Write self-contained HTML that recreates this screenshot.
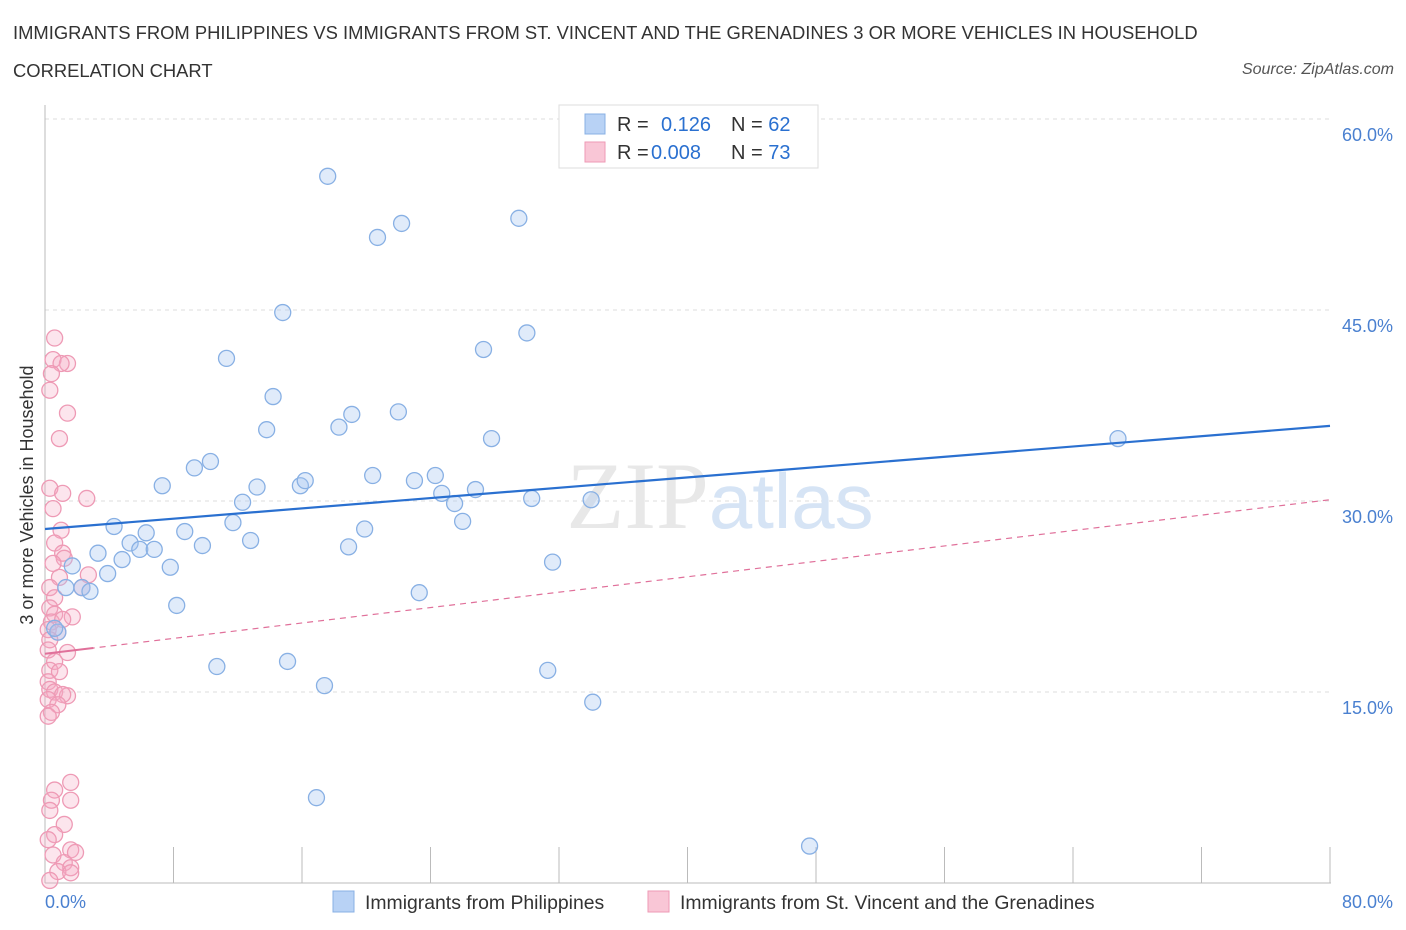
<!DOCTYPE html>
<html><head><meta charset="utf-8"><style>
body{margin:0;background:#fff;font-family:"Liberation Sans",sans-serif;}
#wrap{position:relative;width:1406px;height:930px;overflow:hidden;}
.t{position:absolute;white-space:nowrap;}
</style></head><body>
<div id="wrap">
<div class="t" style="left:13px;top:22px;font-size:18.4px;color:#333;">IMMIGRANTS FROM PHILIPPINES VS IMMIGRANTS FROM ST. VINCENT AND THE GRENADINES 3 OR MORE VEHICLES IN HOUSEHOLD</div>
<div class="t" style="left:13px;top:60px;font-size:18.4px;color:#333;">CORRELATION CHART</div>
<div class="t" style="right:12px;top:61px;font-size:16px;color:#555;font-style:italic;">Source: ZipAtlas.com</div>
<svg id="svg" width="1406" height="930" style="position:absolute;left:0;top:0"></svg>
</div>
<script>
const xTickLabels=["0.0%","80.0%"];
const yTicks=[15,30,45,60];
const blueX=[17.6,20.7,22.2,29.5,14.8,30.0,11.3,27.3,14.2,13.8,19.1,22.0,18.3,27.8,10.3,9.3,7.3,15.9,16.2,13.2,20.4,23.0,24.3,24.7,25.5,26.8,30.3,34.0,12.3,11.7,26.0,19.9,4.3,6.3,8.7,12.8,5.3,5.9,6.8,9.8,18.9,3.3,4.8,7.8,31.6,3.9,1.7,2.3,2.8,1.3,8.2,23.3,10.7,15.1,31.3,17.4,34.1,16.9,47.6,66.8,0.8,0.6];
const blueY=[55.5,50.7,51.8,52.2,44.8,43.2,41.2,41.9,38.2,35.6,36.8,37.0,35.8,34.9,33.1,32.6,31.2,31.2,31.6,31.1,32.0,31.6,32.0,30.6,29.8,30.9,30.2,30.1,29.9,28.3,28.4,27.8,28.0,27.5,27.6,26.9,26.7,26.2,26.2,26.5,26.4,25.9,25.4,24.8,25.2,24.3,24.9,23.2,22.9,23.2,21.8,22.8,17.0,17.4,16.7,15.5,14.2,6.7,2.9,34.9,19.7,20.0];
const pinkX=[0.6,0.5,1.4,1.0,0.4,0.3,1.4,0.9,0.3,1.1,2.6,0.5,1.0,0.6,1.1,1.2,0.5,2.7,0.9,0.3,2.3,0.6,0.3,0.6,1.7,0.4,1.1,0.2,0.8,0.3,1.4,0.2,0.6,0.3,0.9,0.2,0.3,0.6,1.4,1.1,0.2,0.8,0.4,0.2,1.6,0.6,0.4,1.6,0.3,1.2,0.6,0.2,1.6,0.5,1.9,1.2,1.6,0.8,1.6,0.3];
const pinkY=[42.8,41.1,40.8,40.8,40.0,38.7,36.9,34.9,31.0,30.6,30.2,29.4,27.7,26.7,25.9,25.5,25.1,24.2,24.0,23.2,23.2,22.4,21.6,21.1,20.9,20.5,20.7,19.9,19.7,19.1,18.1,18.3,17.4,16.7,16.6,15.8,15.2,15.0,14.7,14.8,14.4,14.0,13.4,13.1,7.9,7.3,6.5,6.5,5.7,4.6,3.8,3.4,2.6,2.2,2.4,1.6,1.2,0.9,0.8,0.2];
const blueTrend=[27.8,35.9];
const pinkTrend=[18.0,30.1];
const legendR=["0.126","0.008"],legendN=["62","73"];

const svg=document.getElementById('svg');const NS='http://www.w3.org/2000/svg';
const X0=45,X1=1330,Y0=883,Y60=119;
const sx=v=>X0+(v/80)*(X1-X0), sy=v=>Y0-(v/60)*(Y0-Y60);
function mk(tag,a,p){const e=document.createElementNS(NS,tag);for(const k in a)e.setAttribute(k,a[k]);(p||svg).appendChild(e);return e;}
yTicks.forEach(v=>{const g=mk('line',{x1:X0,x2:X1,y1:sy(v),y2:sy(v),stroke:'#ddd','stroke-dasharray':'4,4'});

const t=mk('text',{x:1393,y:sy(v)+22,'text-anchor':'end','font-size':18,fill:'#4a80d0'});t.textContent=v.toFixed(1)+'%';
});
const ax=mk('line',{x1:X0,x2:X1+1,y1:Y0,y2:Y0,stroke:'#bbb'});
const ay=mk('line',{x1:X0,x2:X0,y1:105,y2:Y0,stroke:'#bbb'});
for(let i=0;i<=10;i++){const l=mk('line',{x1:sx(i*8),x2:sx(i*8),y1:Y0,y2:Y0-36,stroke:'#bbb'});}
[[0,'start',X0],[1,'end',1393]].forEach(([i,a,x])=>{const t=mk('text',{x:x,y:908,'text-anchor':a,'font-size':18,fill:'#4a80d0'});t.textContent=xTickLabels[i];});
const yt=mk('text',{x:0,y:0,transform:'translate(33,495) rotate(-90)','text-anchor':'middle','font-size':18,fill:'#333'});yt.textContent='3 or more Vehicles in Household';
const wm=mk('text',{x:720,y:528,'text-anchor':'middle','font-size':95,fill:'#e8e8e8','font-family':'Liberation Serif'});wm.innerHTML='ZIP<tspan fill="#d6e4f5" font-family="Liberation Sans" font-size="78">atlas</tspan>';
pinkX.forEach((x,i)=>{const c=mk('circle',{cx:sx(x),cy:sy(pinkY[i]),r:8,fill:'rgba(245,170,195,0.3)',stroke:'#ee9ab5','stroke-width':1.3});});
blueX.forEach((x,i)=>{const c=mk('circle',{cx:sx(x),cy:sy(blueY[i]),r:8,fill:'rgba(165,198,240,0.35)',stroke:'#88b0e4','stroke-width':1.3});});
const bl=mk('line',{x1:sx(0),x2:sx(80),y1:sy(blueTrend[0]),y2:sy(blueTrend[1]),stroke:'#2a70d0','stroke-width':2.2});
const pl=mk('line',{x1:sx(0),x2:sx(80),y1:sy(pinkTrend[0]),y2:sy(pinkTrend[1]),stroke:'#e0709a','stroke-width':1.2,'stroke-dasharray':'6,5'});
const ps=mk('line',{x1:sx(0),x2:sx(3),y1:sy(pinkTrend[0]),y2:sy(pinkTrend[0]+(pinkTrend[1]-pinkTrend[0])*3/80),stroke:'#e0709a','stroke-width':2});
const lb=mk('rect',{x:559,y:105,width:259,height:63,fill:'#fff',stroke:'#ddd'});
[['#b8d2f5','#88b0e4'],['#f9c6d6','#ee9ab5']].forEach((c,i)=>{const y=114+i*28;
const r=mk('rect',{x:585,y:y,width:20,height:20,fill:c[0],stroke:c[1]});
const t=mk('text',{x:617,y:y+17,'font-size':20,fill:'#333'});t.innerHTML='R = <tspan fill="#2a70d0" x="'+(i?651:661)+'">'+legendR[i]+'</tspan><tspan x="731" fill="#333">N = </tspan><tspan fill="#2a70d0">'+legendN[i]+'</tspan>';
});
[[333,'#b8d2f5','#88b0e4','Immigrants from Philippines'],[648,'#f9c6d6','#ee9ab5','Immigrants from St. Vincent and the Grenadines']].forEach(d=>{
const r=mk('rect',{x:d[0],y:891,width:21,height:21,fill:d[1],stroke:d[2]});
const t=mk('text',{x:d[0]+32,y:909,'font-size':19.4,fill:'#333'});t.textContent=d[3];});
</script>
</body></html>
